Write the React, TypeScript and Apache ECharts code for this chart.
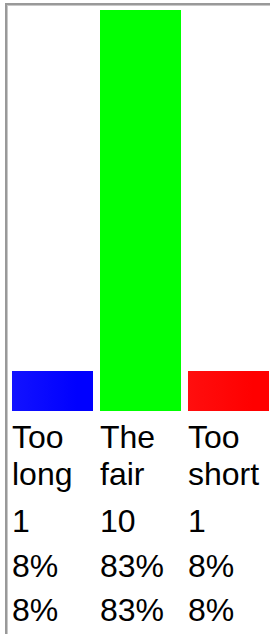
import React, { useEffect, useRef } from "react";
import * as echarts from "echarts";

const categories = ["Too long", "The fair", "Too short"];
const counts = [1, 10, 1];
const sharePercent = [8, 83, 8];
const sharePercentTotal = [8, 83, 8];
const barColors = [
  ["#1212ff", "#0000ff"],
  ["#00ff00", "#00ff00"],
  ["#ff0e0e", "#ff0000"],
];

const FONT = "'Liberation Sans', Arial, Helvetica, sans-serif";

export default function App() {
  const ref = useRef<HTMLDivElement>(null);
  useEffect(() => {
    document.body.style.margin = "0";
    const chart = echarts.init(ref.current!, null, { renderer: "svg" });
    const base = { fontSize: 32, fontFamily: FONT, color: "#000" };
    chart.setOption({
      animation: false,
      grid: { left: 8.5, top: 10, width: 264, height: 401, outerBoundsMode: "none", containLabel: false },
      xAxis: { type: "category", data: categories, show: false },
      yAxis: { type: "value", min: 0, max: 10, show: false },
      series: [
        {
          type: "bar",
          barWidth: 81,
          data: counts.map((v, i) => ({
            value: v,
            itemStyle: {
              color: new echarts.graphic.LinearGradient(0, 0, 1, 0, [
                { offset: 0, color: barColors[i][0] },
                { offset: 0.8, color: barColors[i][1] },
                { offset: 1, color: barColors[i][1] },
              ]),
            },
          })),
          label: {
            show: true,
            position: [0, "100%"],
            offset: [0, 14],
            align: "left",
            verticalAlign: "top",
            ...base,
            formatter: (p: any) => {
              const i = p.dataIndex;
              const words = categories[i].split(" ");
              return `{a|${words[0]}}\n{b|${words[1]}}\n{c|${counts[i]}}\n{d|${sharePercent[i]}%}\n{e|${sharePercentTotal[i]}%}`;
            },
            rich: {
              a: { ...base, lineHeight: 24 },
              b: { ...base, lineHeight: 50 },
              c: { ...base, lineHeight: 44 },
              d: { ...base, lineHeight: 46 },
              e: { ...base, lineHeight: 42 },
            },
          },
        },
      ],
    });
    return () => chart.dispose();
  }, []);
  return (
    <div style={{ position: "absolute", left: 0, top: 0, width: 270, height: 634, overflow: "hidden", background: "#fff" }}>
      <div
        style={{
          position: "absolute",
          left: 5,
          top: 3,
          width: 300,
          height: 700,
          borderTop: "2px solid #999",
          borderLeft: "2px solid #999",
          boxShadow: "inset 1px 1px 0 #c8c8c8",
        }}
      />
      <div ref={ref} style={{ position: "absolute", left: 0, top: 0, width: 270, height: 634 }} />
    </div>
  );
}
